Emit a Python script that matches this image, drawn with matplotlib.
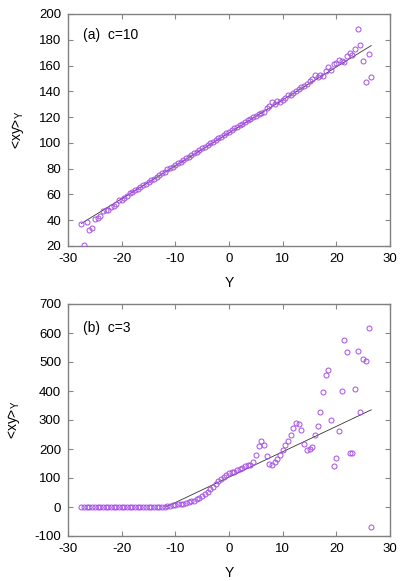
import numpy as np
import matplotlib
matplotlib.use("Agg")
import matplotlib.pyplot as plt

plt.rcParams['font.family'] = ['Liberation Sans', 'DejaVu Sans']
plt.rcParams['axes.unicode_minus'] = False

# sampling grid of Y values
Y = np.arange(-27.5, 26.75, 0.5)

# panel (a) c=10
xy_a = [36.8, 20.5, 38.6, 32.6, 33.7, 40.9, 41.4, 43.0, 47.0, 47.6,
        47.6, 50.2, 50.7, 52.3, 55.4, 56.0, 57.0, 58.5, 60.8, 61.8,
        63.5, 64.2, 65.5, 67.0, 68.4, 69.5, 71.0, 72.3, 73.5, 74.8,
        76.4, 77.6, 79.5, 80.2, 81.5, 82.9, 84.4, 85.5, 86.6, 88.2,
        89.4, 90.6, 91.8, 93.1, 94.6, 96.2, 97.0, 98.3, 99.8, 101.0,
        102.4, 103.5, 104.8, 106.0, 107.4, 108.6, 109.8, 111.2, 112.3, 113.7,
        115.0, 116.2, 117.4, 118.9, 119.8, 121.2, 122.8, 123.4, 124.2, 127.0,
        128.5, 131.5, 130.0, 132.5, 132.0, 133.5, 134.8, 136.8, 137.5, 138.5,
        140.2, 142.0, 143.6, 144.0, 145.8, 148.0, 149.5, 152.7, 151.5, 153.0,
        152.0, 155.8, 158.5, 156.8, 161.5, 162.0, 164.2, 163.5, 162.8, 167.5,
        169.5, 168.0, 172.6, 188.4, 176.0, 163.8, 147.0, 169.0, 151.2]
fit_a_x = [-27.5, 26.5]
fit_a_y = [37.5, 175.5]

# panel (b) c=3
xy_b = [0] * 31 + [
        1, 3, 4, 6, 7, 9, 10, 12, 14, 16,
        19, 22, 26, 31, 37, 44, 53, 62, 70, 79,
        91, 96, 103, 110, 118, 121, 121, 128, 130, 135,
        142, 144, 144, 154, 178, 209, 226, 213, 175, 150,
        145, 156, 166, 181, 196, 213, 229, 249, 272, 288,
        287, 265, 217, 195, 200, 206, 248, 278, 326, 395,
        454, 472, 299, 141, 168, 261, 399, 576, 534, 187,
        186, 408, 539, 327, 511, 505, 616, -69]
fit_b_x = [-11.75, 26.5]
fit_b_y = [0.0, 335.0]

W, H = 415, 581
fig = plt.figure(figsize=(W / 100, H / 100), dpi=100)

def panel(rect, yv, fx, fy, ylim, yticks, label, ytxt):
    ax = fig.add_axes(rect)
    ax.plot(fx, fy, color='#333333', lw=0.6, zorder=2)
    ax.plot(Y, yv, linestyle='none', marker='o', ms=3.6, mfc='none',
            mec='#a64ee6', mew=0.7, zorder=3)
    ax.set_xlim(-30, 30)
    ax.set_ylim(*ylim)
    ax.set_xticks([-30, -20, -10, 0, 10, 20, 30])
    ax.set_yticks(yticks)
    ax.tick_params(direction='in', top=True, right=True, length=3.5,
                   width=0.8, color='#888888', labelsize=9.5, pad=5)
    for s in ax.spines.values():
        s.set_color('#808080')
        s.set_linewidth(1.0)
    ax.set_xlabel('Y', fontsize=10, labelpad=8)
    ax.set_ylabel(r'<xy>$_{\mathregular{Y}}$', fontsize=10, labelpad=9)
    ax.text(0.047, ytxt, label, transform=ax.transAxes, fontsize=10,
            va='center', ha='left')
    return ax

panel([68 / W, 1 - 246 / H, 322 / W, 232 / H], xy_a, fit_a_x, fit_a_y,
      (20, 200), range(20, 201, 20), '(a)  c=10', 0.909)
panel([68 / W, 1 - 536 / H, 322 / W, 232 / H], xy_b, fit_b_x, fit_b_y,
      (-100, 700), range(-100, 701, 100), '(b)  c=3', 0.897)

fig.savefig('out.png', dpi=100)
